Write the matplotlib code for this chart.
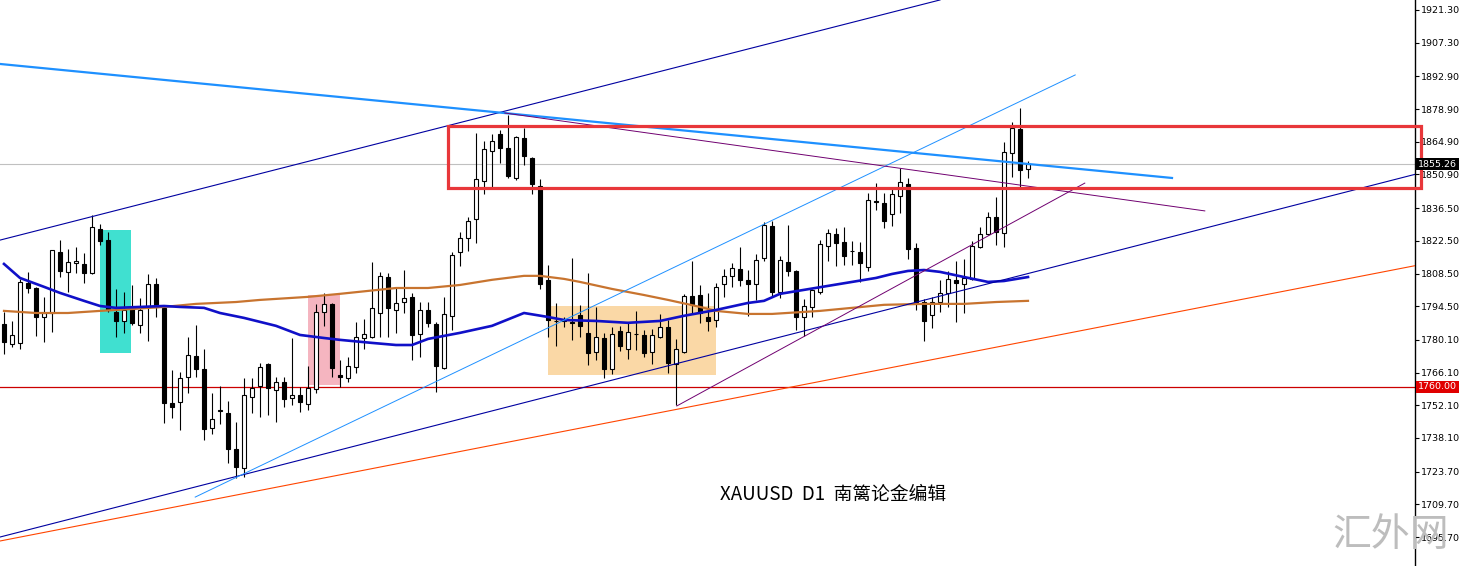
import matplotlib
matplotlib.use('Agg')
import matplotlib.pyplot as plt
import matplotlib.patches as patches
import matplotlib.transforms as mtransforms

# XAUUSD daily candles
opens = [
    1786.9, 1778.4, 1778.8, 1804.5, 1802.3, 1789.9, 1791.6, 1817.7, 1809.2, 1813.0,
    1812.6, 1808.7, 1827.6, 1822.9, 1792.0, 1788.2, 1793.3, 1786.5, 1794.2, 1804.0,
    1793.8, 1753.1, 1753.5, 1764.3, 1773.2, 1767.7, 1742.4, 1749.7, 1748.8, 1733.4,
    1725.3, 1755.7, 1760.4, 1769.8, 1758.7, 1762.1, 1755.3, 1756.5, 1752.7, 1759.1,
    1792.0, 1795.5, 1765.1, 1763.8, 1768.5, 1780.9, 1781.4, 1791.6, 1807.0, 1792.9,
    1796.3, 1798.5, 1782.7, 1792.9, 1786.9, 1768.1, 1790.4, 1817.7, 1823.7, 1831.9,
    1848.1, 1861.0, 1868.2, 1862.3, 1849.4, 1866.5, 1858.0, 1846.0, 1805.8, 1788.2,
    1788.4, 1787.8, 1790.8, 1783.1, 1775.0, 1780.9, 1767.7, 1783.9, 1776.2, 1782.7,
    1782.3, 1775.0, 1781.4, 1785.6, 1769.8, 1775.0, 1798.9, 1799.3, 1789.9, 1788.6,
    1804.0, 1807.5, 1810.5, 1805.8, 1804.0, 1815.2, 1828.9, 1800.6, 1813.5, 1809.6,
    1789.9, 1794.2, 1800.6, 1820.3, 1825.4, 1822.0, 1818.2, 1817.7, 1811.3, 1839.6,
    1838.7, 1834.0, 1841.7, 1846.8, 1819.5, 1796.3, 1790.8, 1796.3, 1800.2, 1805.8,
    1804.0, 1806.2, 1819.9, 1825.4, 1832.7, 1825.9, 1860.1, 1870.4, 1853.2]
highs = [
    1792.0, 1788.2, 1806.1, 1809.1, 1802.8, 1798.5, 1818.6, 1822.9, 1819.0, 1819.9,
    1817.3, 1833.6, 1829.7, 1826.3, 1801.9, 1800.6, 1803.6, 1798.0, 1808.3, 1806.6,
    1794.6, 1767.2, 1766.4, 1781.4, 1786.5, 1776.2, 1757.4, 1760.4, 1754.0, 1745.0,
    1763.8, 1763.8, 1770.2, 1770.2, 1764.3, 1764.3, 1780.9, 1759.9, 1768.9, 1795.5,
    1800.2, 1795.9, 1771.5, 1772.8, 1787.8, 1789.1, 1813.5, 1809.2, 1808.7, 1802.8,
    1810.0, 1800.2, 1796.3, 1796.3, 1787.8, 1798.5, 1817.7, 1826.3, 1832.7, 1868.7,
    1865.2, 1868.2, 1870.0, 1876.4, 1867.4, 1870.8, 1858.4, 1849.0, 1812.2, 1795.9,
    1789.9, 1815.2, 1795.1, 1808.7, 1794.2, 1783.1, 1785.6, 1786.1, 1787.4, 1792.5,
    1784.4, 1784.8, 1791.2, 1788.6, 1780.5, 1799.8, 1813.9, 1803.6, 1800.2, 1804.5,
    1810.5, 1813.0, 1819.9, 1810.0, 1816.9, 1830.6, 1831.0, 1816.0, 1829.3, 1809.8,
    1797.6, 1801.9, 1822.9, 1827.6, 1828.0, 1828.4, 1822.4, 1822.0, 1843.0, 1847.3,
    1843.0, 1845.6, 1853.7, 1849.4, 1821.6, 1797.6, 1798.5, 1805.8, 1809.6, 1813.9,
    1814.7, 1822.4, 1828.4, 1834.9, 1841.3, 1864.8, 1873.4, 1879.4, 1856.7]
lows = [
    1774.1, 1777.1, 1776.2, 1800.2, 1781.8, 1779.2, 1783.5, 1807.0, 1800.6, 1808.7,
    1804.5, 1808.2, 1820.7, 1792.0, 1781.4, 1783.1, 1786.5, 1783.1, 1779.7, 1789.9,
    1744.5, 1746.7, 1741.6, 1757.4, 1764.3, 1737.3, 1739.8, 1744.1, 1727.4, 1721.0,
    1721.4, 1748.8, 1747.1, 1747.9, 1745.0, 1751.4, 1752.3, 1749.3, 1750.1, 1757.4,
    1786.1, 1764.3, 1760.0, 1762.1, 1765.9, 1776.2, 1781.0, 1781.4, 1781.4, 1783.1,
    1791.6, 1771.5, 1772.8, 1785.6, 1757.8, 1767.7, 1784.4, 1811.7, 1818.2, 1821.6,
    1842.6, 1845.1, 1855.8, 1849.4, 1848.6, 1855.0, 1842.6, 1801.9, 1781.4, 1777.5,
    1785.6, 1780.1, 1781.4, 1769.4, 1771.5, 1763.8, 1765.5, 1775.4, 1771.9, 1775.8,
    1772.8, 1769.8, 1781.0, 1765.9, 1752.3, 1774.6, 1791.6, 1787.4, 1783.9, 1785.6,
    1798.5, 1802.8, 1803.2, 1790.4, 1797.2, 1813.9, 1798.9, 1798.0, 1807.5, 1784.4,
    1781.8, 1789.9, 1799.8, 1813.9, 1811.7, 1812.2, 1812.2, 1804.9, 1809.6, 1835.7,
    1828.0, 1828.9, 1834.4, 1814.7, 1792.9, 1779.7, 1785.2, 1792.0, 1794.2, 1787.8,
    1791.6, 1805.8, 1819.5, 1825.0, 1820.7, 1819.9, 1849.8, 1845.6, 1849.4]
closes = [
    1779.2, 1782.3, 1804.9, 1802.3, 1789.9, 1791.6, 1818.6, 1809.6, 1813.5, 1813.9,
    1808.7, 1828.4, 1822.4, 1792.9, 1788.2, 1792.9, 1787.4, 1792.9, 1804.0, 1794.2,
    1753.1, 1751.4, 1763.8, 1773.7, 1767.7, 1742.0, 1746.3, 1749.9, 1733.4, 1725.7,
    1756.5, 1759.5, 1768.5, 1759.5, 1762.1, 1754.8, 1756.5, 1753.5, 1759.5, 1792.0,
    1795.5, 1768.1, 1764.3, 1768.9, 1781.4, 1782.7, 1793.8, 1807.5, 1793.8, 1795.9,
    1798.0, 1782.3, 1792.9, 1787.4, 1768.9, 1791.2, 1816.4, 1823.7, 1831.0, 1849.0,
    1861.8, 1865.2, 1862.3, 1850.3, 1867.0, 1858.8, 1846.8, 1804.0, 1788.6, 1788.0,
    1788.2, 1787.4, 1786.1, 1774.5, 1781.4, 1767.7, 1782.7, 1777.5, 1783.5, 1782.5,
    1774.5, 1782.3, 1785.6, 1770.2, 1776.2, 1798.9, 1795.5, 1791.6, 1788.2, 1802.8,
    1807.5, 1810.9, 1805.8, 1804.0, 1814.3, 1829.3, 1800.6, 1814.3, 1809.6, 1789.9,
    1794.6, 1801.5, 1821.2, 1825.9, 1821.6, 1816.0, 1818.0, 1813.0, 1840.0, 1839.1,
    1831.0, 1842.6, 1847.7, 1819.0, 1796.3, 1788.2, 1796.3, 1800.2, 1806.2, 1804.5,
    1806.6, 1820.3, 1825.4, 1832.7, 1826.3, 1860.5, 1870.8, 1852.8, 1855.26]

# moving averages (bar index, value)
ma_blue_idx = [0, 2, 5, 7, 10, 12, 14, 17, 20, 22, 25, 27, 30, 32, 34, 37, 40, 42, 46, 49,
               51, 53, 57, 61, 65, 68, 70, 74, 78, 82, 85, 89, 93, 95, 97, 100, 103, 106,
               109, 111, 113, 115, 117, 120, 123, 125, 128]
ma_blue_val = [1812.6, 1806.6, 1802.8, 1800.2, 1796.8, 1794.6, 1793.8, 1794.2, 1794.6, 1794.2,
               1793.8, 1791.6, 1789.5, 1787.8, 1786.1, 1782.2, 1780.9, 1780.1, 1778.8, 1777.9,
               1777.9, 1780.5, 1783.1, 1786.1, 1791.6, 1789.9, 1788.6, 1788.2, 1787.4, 1788.2,
               1790.4, 1792.9, 1795.9, 1796.8, 1799.8, 1801.5, 1803.2, 1804.9, 1806.6, 1808.3,
               1809.6, 1810.0, 1809.2, 1807.0, 1804.9, 1805.3, 1807.0]
ma_brown_idx = [0, 4, 8, 12, 16, 20, 24, 29, 32, 38, 42, 49, 53, 57, 61, 65, 67, 70, 72, 76,
                80, 83, 87, 89, 93, 96, 102, 106, 110, 115, 120, 124, 128]
ma_brown_val = [1792.5, 1791.6, 1791.6, 1792.5, 1793.3, 1794.2, 1795.5, 1796.3, 1797.2, 1798.5,
                1799.8, 1802.3, 1802.3, 1803.6, 1805.8, 1807.5, 1807.5, 1806.2, 1804.9, 1801.9,
                1799.3, 1797.2, 1794.2, 1792.5, 1791.2, 1791.2, 1792.5, 1793.8, 1795.1, 1795.5,
                1795.5, 1796.3, 1796.8]

# trend lines: (bar1, price1, bar2, price2)
channel_top = (-0.5, 1822.8, 117.0, 1925.6)
channel_bottom = (-0.5, 1695.7, 177.0, 1851.5)
down_trend = (-0.5, 1898.2, 146.0, 1849.4)
up_thin = (23.9, 1712.8, 133.9, 1893.5)
purple_down = (62.6, 1877.2, 150.1, 1835.3)
purple_up = (84.1, 1751.8, 135.1, 1847.2)
orange_trend = (-0.5, 1694.0, 176.75, 1812.1)

# shaded zones: (bar_left, bar_right, price_low, price_high)
zone_cyan = (12.0, 15.9, 1774.5, 1827.1)
zone_pink = (38.0, 42.0, 1760.8, 1799.3)
zone_peach = (68.0, 89.0, 1765.0, 1794.6)
range_box = (55.5, 177.1, 1845.1, 1871.6)

support = 1760.00
last_price = 1855.26
yticks = [1921.30, 1907.30, 1892.90, 1878.90, 1864.90, 1850.90, 1836.50, 1822.50, 1808.50,
          1794.50, 1780.10, 1766.10, 1752.10, 1738.10, 1723.70, 1709.70, 1695.70]

plt.rcParams['font.family'] = ['DejaVu Sans']
fig = plt.figure(figsize=(14.63, 5.66), dpi=100)
ax = fig.add_axes([0, 0, 1415 / 1463, 1])
ax.set_xlim(-0.5, 176.375)
ax.set_ylim(1683.3, 1925.58)

for z, col in [(zone_cyan, '#40E0D0'), (zone_pink, '#F5B5C0'), (zone_peach, '#FAD8A6')]:
    ax.add_patch(patches.Rectangle((z[0], z[2]), z[1] - z[0], z[3] - z[2],
                                   facecolor=col, edgecolor='none', zorder=1))

ax.axhline(last_price, color='#C0C0C0', lw=0.8, zorder=2)
ax.axhline(support, color='#CC0000', lw=0.9, zorder=2)

xs = list(range(len(opens)))
ax.vlines(xs, lows, highs, color='black', lw=0.8, zorder=3)
bottoms = [min(o, c) for o, c in zip(opens, closes)]
heights = [max(abs(c - o), 0.3) for o, c in zip(opens, closes)]
colors = ['white' if c >= o else 'black' for o, c in zip(opens, closes)]
ax.bar(xs, heights, 0.6, bottoms, color=colors, edgecolor='black', lw=0.8, zorder=3.1)

ax.plot(ma_brown_idx, ma_brown_val, color='#C8742F', lw=1.6, zorder=4)
ax.plot(ma_blue_idx, ma_blue_val, color='#1010C8', lw=1.9, zorder=4.1)

for ln, col, lw in [(channel_top, '#0000A0', 0.8), (channel_bottom, '#0000A0', 0.8),
                    (down_trend, '#1E90FF', 1.6), (up_thin, '#1E90FF', 0.7),
                    (purple_down, '#700070', 0.7), (purple_up, '#700070', 0.7),
                    (orange_trend, '#FF4500', 0.8)]:
    ax.plot([ln[0], ln[2]], [ln[1], ln[3]], color=col, lw=lw, zorder=4.5)

ax.add_patch(patches.Rectangle((range_box[0], range_box[2]), range_box[1] - range_box[0],
                               range_box[3] - range_box[2], facecolor='none',
                               edgecolor='#E8373A', lw=2.3, zorder=5, clip_on=False))

for s in ['left', 'top', 'bottom']:
    ax.spines[s].set_visible(False)
ax.spines['right'].set_linewidth(1.0)
ax.set_xticks([])
ax.yaxis.tick_right()
ax.set_yticks(yticks)
ax.set_yticklabels(['%.2f' % v for v in yticks])
ax.tick_params(axis='y', direction='out', length=3, width=0.8, pad=1.5, labelsize=6.8)

trans = mtransforms.blended_transform_factory(ax.transAxes, ax.transData)
ax.text(1.002, last_price, '%.2f' % last_price, transform=trans, color='white', fontsize=6.8,
        ha='left', va='center', zorder=10, clip_on=False,
        bbox=dict(facecolor='black', edgecolor='none', pad=1.2))
ax.text(1.002, support, '%.2f' % support, transform=trans, color='white', fontsize=6.8,
        ha='left', va='center', zorder=10, clip_on=False,
        bbox=dict(facecolor='#E00000', edgecolor='none', pad=1.2))

fig.text(833 / 1463, 1 - 494 / 566, 'XAUUSD  D1  南篱论金编辑', fontsize=13.5,
         family=['Noto Sans CJK SC', 'DejaVu Sans'], ha='center', va='center', color='black')
fig.text(1391 / 1463, 1 - 535 / 566, '汇外网', fontsize=28, color='#BDBDBD',
         family=['Noto Sans CJK SC'], ha='center', va='center', zorder=0)

fig.savefig('out.png', dpi=100)
